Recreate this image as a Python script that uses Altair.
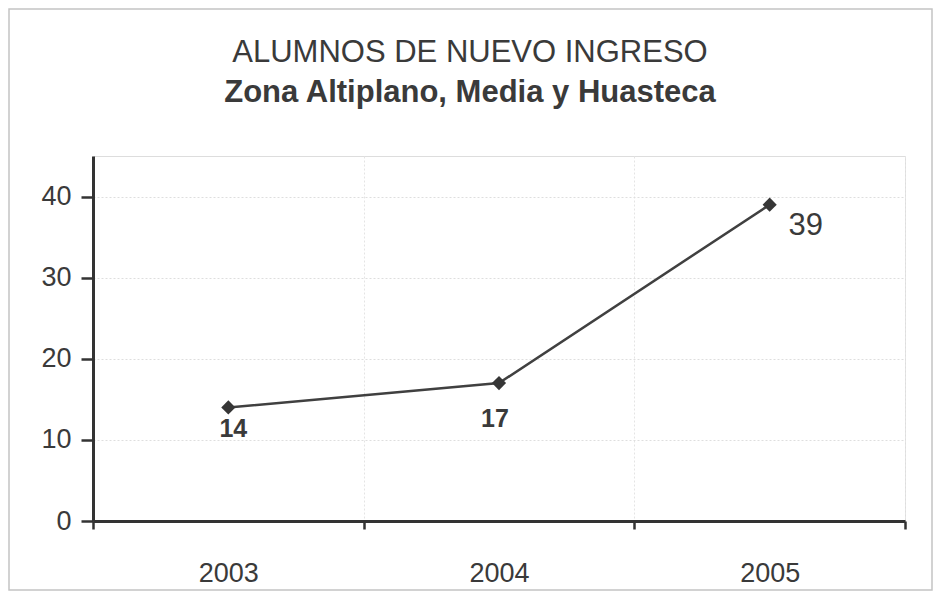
import altair as alt
import pandas as pd

years = ["2003", "2004", "2005"]
alumnos = [14, 17, 39]
y_ticks = [0, 10, 20, 30, 40]
title_text = "ALUMNOS DE NUEVO INGRESO"
subtitle_text = "Zona Altiplano, Media y Huasteca"

df = pd.DataFrame({"year": years, "alumnos": alumnos})
titles = pd.DataFrame({"line": [title_text], "sub": [subtitle_text]})

FONT = "Liberation Sans"
TXT = "#3a3a3a"

x_enc = alt.X(
    "year:N", sort=years, title=None, bandPosition=0.5,
    scale=alt.Scale(type="band", paddingInner=0, paddingOuter=0),
    axis=alt.Axis(labelAngle=0, tickBand="extent", domainColor="#333333", domainWidth=3,
                  tickColor="#333333", tickWidth=2.5, tickSize=8, labelFontSize=27,
                  labelColor=TXT, labelPadding=31, labelFont=FONT,
                  grid=True, gridColor="#e4e4e4", gridDash=[2, 2], gridWidth=1),
)
y_enc = alt.Y(
    "alumnos:Q", title=None,
    scale=alt.Scale(domain=[0, 45], nice=False, zero=True),
    axis=alt.Axis(values=y_ticks, domainColor="#333333", domainWidth=3,
                  tickColor="#333333", tickWidth=2.5, tickSize=12, labelFontSize=27,
                  labelColor=TXT, labelPadding=10, labelFont=FONT,
                  grid=True, gridColor="#dedede", gridDash=[2, 2], gridWidth=1),
)

base = alt.Chart(df).encode(x=x_enc, y=y_enc)

line = base.mark_line(color="#404040", strokeWidth=2.5)
pts = base.mark_point(shape="diamond", filled=True, color="#363636", size=200, opacity=1)

lab_small = base.transform_filter(alt.datum.year == "2003").mark_text(
    font=FONT, fontSize=25, fontWeight="bold", color=TXT, baseline="top", dy=10, dx=5
).encode(text="alumnos:Q")
lab_mid = base.transform_filter(alt.datum.year == "2004").mark_text(
    font=FONT, fontSize=25, fontWeight="bold", color=TXT, baseline="top", dy=24, dx=-4
).encode(text="alumnos:Q")
lab_big = base.transform_filter(alt.datum.year == "2005").mark_text(
    font=FONT, fontSize=31, fontWeight="normal", color=TXT, baseline="middle", dy=21, dx=36
).encode(text="alumnos:Q")

frame = alt.Chart(pd.DataFrame({"f": [0]})).mark_rect(
    filled=False, stroke="#c4c4c4", strokeWidth=1.5
).encode(x=alt.value(-84), x2=alt.value(839), y=alt.value(-147), y2=alt.value(434))

t1 = alt.Chart(titles).mark_text(
    font=FONT, fontSize=31, fontWeight="normal", color=TXT, baseline="alphabetic", align="center"
).encode(text="line:N", x=alt.value(377), y=alt.value(-94))
t2 = alt.Chart(titles).mark_text(
    font=FONT, fontSize=31, fontWeight="bold", color=TXT, baseline="alphabetic", align="center"
).encode(text="sub:N", x=alt.value(377), y=alt.value(-54))

chart = alt.layer(frame, t1, t2, line, pts, lab_small, lab_mid, lab_big).properties(
    width=812, height=365,
    autosize=alt.AutoSizeParams(type="none"),
    padding={"left": 85, "top": 148, "right": 28, "bottom": 72},
).configure_view(stroke="#999999", strokeWidth=2).configure(background="white")

chart.save("out.html", embed_options={"renderer": "svg", "actions": False})
